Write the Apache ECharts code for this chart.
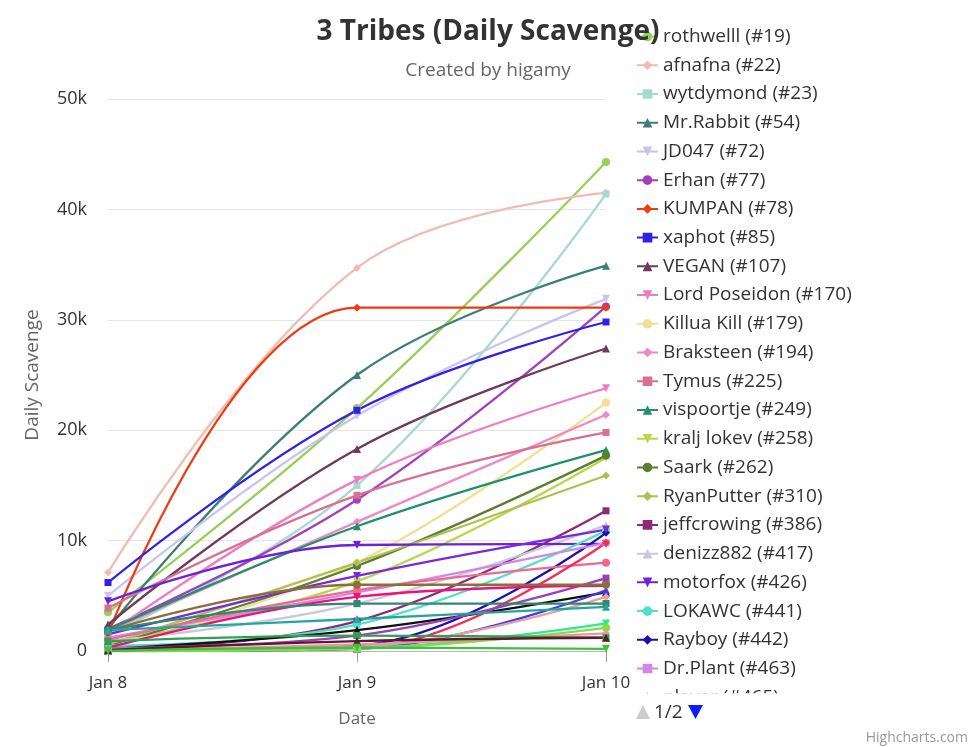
<!DOCTYPE html>
<html>
<head>
<meta charset="utf-8">
<script src="https://cdn.jsdelivr.net/npm/echarts@6/dist/echarts.min.js"></script>
<style>
  html, body { margin: 0; padding: 0; background: #fff; }
  #chart { width: 976px; height: 747px; }
</style>
</head>
<body>
<div id="chart"></div>
<script>
// x categories
const dates = ["Jan 8", "Jan 9", "Jan 10"];

// players, in legend order
const players = [
  "rothwelll (#19)", "afnafna (#22)", "wytdymond (#23)", "Mr.Rabbit (#54)",
  "JD047 (#72)", "Erhan (#77)", "KUMPAN (#78)", "xaphot (#85)",
  "VEGAN (#107)", "Lord Poseidon (#170)", "Killua Kill (#179)", "Braksteen (#194)",
  "Tymus (#225)", "vispoortje (#249)", "kralj lokev (#258)", "Saark (#262)",
  "RyanPutter (#310)", "jeffcrowing (#386)", "denizz882 (#417)", "motorfox (#426)",
  "LOKAWC (#441)", "Rayboy (#442)", "Dr.Plant (#463)", "player (#465)",
  "player (#471)", "player (#488)", "player (#502)", "player (#519)",
  "player (#533)", "player (#547)", "player (#560)", "player (#574)",
  "player (#589)", "player (#603)", "player (#618)", "player (#632)",
  "player (#645)", "player (#661)", "player (#677)", "player (#690)"
];

// daily scavenge per player, one array per date
const jan8 = [
  3500, 7100, 1500, 2000, 5000, 2000, 1500, 6200,
  2400, 1500, 300, 1800, 3900, 1900, 800, 500,
  600, 200, 900, 4500, 500, 100, 1200, 200,
  1500, 1000, 0, 300, 0, 300, 1800, 200,
  1900, 1900, 200, 0, 100, 900, 100, 0
];
const jan9 = [
  22000, 34700, 15000, 25000, 21300, 13700, 31100, 21800,
  18300, 15500, 8000, 11700, 14100, 11300, 6300, 7700,
  8000, 2700, 4300, 9600, 2400, 500, 5300, 1900,
  6800, 5500, 200, 1400, 200, 4900, 6000, 400,
  4300, 2900, 300, 200, 600, 1400, 900, 300
];
const jan10 = [
  44300, 41500, 41400, 34900, 31900, 31200, 31100, 29800,
  27400, 23800, 22500, 21400, 19800, 18200, 17500, 17700,
  15900, 12700, 11400, 9700, 10900, 10700, 9800, 5300,
  11000, 8000, 9800, 6600, 5500, 5900, 6000, 4900,
  4300, 4000, 2500, 2100, 1600, 1200, 1200, 200
];

// line colours and marker shapes (style only)
const palette = [
  "#96d05a", "#f0bcb0", "#a8d8d0", "#3d7f78", "#c8c4f0", "#a040c0", "#f03a10", "#3020e8",
  "#6e3a58", "#f07cc0", "#f0e090", "#f088c8", "#d87090", "#20906e", "#b8d848", "#5a7f30",
  "#b0c050", "#902878", "#c8c8d8", "#7020d8", "#50e0c8", "#1a10b0", "#d088e8", "#111111",
  "#7a28e0", "#f06890", "#f82858", "#9840b8", "#4838e8", "#f0107a", "#8a7038", "#e8a0a0",
  "#308870", "#20a8a0", "#30e890", "#80e040", "#f090b0", "#30a050", "#601828", "#40c040"
];
const shapes = ["circle", "diamond", "rect", "triangle", "triangle-down"];
const perPage = 23;

const series = players.map((name, i) => {
  const shape = shapes[i % shapes.length];
  return {
    name: name,
    type: "line",
    smooth: 0.4,
    data: [jan8[i], jan9[i], jan10[i]],
    symbol: shape === "triangle-down" ? "triangle" : shape,
    symbolRotate: shape === "triangle-down" ? 180 : 0,
    symbolSize: shape === "rect" ? 7 : 8,
    color: palette[i],
    lineStyle: { width: 2.3 },
    emphasis: { disabled: true }
  };
});

const pages = Math.ceil(players.length / perPage);
const none = "rgba(0,0,0,0)";

const chart = echarts.init(document.getElementById("chart"));
chart.setOption({
  animation: false,
  backgroundColor: "#ffffff",
  textStyle: { fontFamily: "Open Sans" },
  title: {
    text: "3 Tribes (Daily Scavenge)",
    subtext: "Created by higamy",
    left: "center",
    top: 13,
    itemGap: 15,
    textStyle: { fontSize: 28, fontWeight: "bold", color: "#333333", fontFamily: "Open Sans" },
    subtextStyle: { fontSize: 19, color: "#666666", fontFamily: "Open Sans" }
  },
  legend: {
    type: "scroll",
    orient: "vertical",
    left: 636,
    top: 27,
    height: 695,
    padding: 0,
    itemGap: 9.73,
    itemWidth: 21,
    itemHeight: 12,
    textStyle: { fontSize: 19, color: "#333333", fontFamily: "Open Sans" },
    // built-in pager kept for paging, drawn by the graphic below instead
    pageIconColor: none,
    pageIconInactiveColor: none,
    pageIconSize: 15,
    pageTextStyle: { fontSize: 19, color: none },
    pageFormatter: "{current}/{total}"
  },
  grid: { left: 108, right: 370, top: 99, bottom: 96, containLabel: false },
  xAxis: {
    type: "category",
    data: dates,
    boundaryGap: false,
    name: "Date",
    nameLocation: "middle",
    nameGap: 60,
    nameTextStyle: { fontSize: 17, color: "#666666" },
    axisLine: { lineStyle: { color: "#b8b8b8", width: 1 } },
    axisTick: { show: true, length: 11, lineStyle: { color: "#999999" } },
    axisLabel: { fontSize: 17, color: "#333333", margin: 24 }
  },
  yAxis: {
    type: "value",
    min: 0,
    max: 50000,
    interval: 10000,
    name: "Daily Scavenge",
    nameLocation: "middle",
    nameGap: 66,
    nameTextStyle: { fontSize: 19, color: "#666666" },
    axisLine: { show: false },
    axisTick: { show: false },
    splitLine: { lineStyle: { color: "#e6e6e6" } },
    axisLabel: {
      fontSize: 18,
      color: "#333333",
      margin: 21,
      formatter: v => (v === 0 ? "0" : v / 1000 + "k")
    }
  },
  graphic: [
    {
      type: "group",
      left: 636,
      top: 703,
      children: [
        { type: "polygon", shape: { points: [[0, 16], [14, 16], [7, 2]] }, style: { fill: "#cccccc" } },
        { type: "text", x: 18, y: 0, style: { text: "1/" + pages, fontSize: 19, fill: "#333333", fontFamily: "Open Sans" } },
        { type: "polygon", shape: { points: [[52, 2], [67, 2], [59.5, 16]] }, style: { fill: "#0a1eff" } }
      ]
    },
    {
      type: "text",
      right: 8,
      bottom: 2,
      style: { text: "Highcharts.com", fontSize: 14, fill: "#999999", fontFamily: "Open Sans" }
    }
  ],
  series: series
});
</script>
</body>
</html>
